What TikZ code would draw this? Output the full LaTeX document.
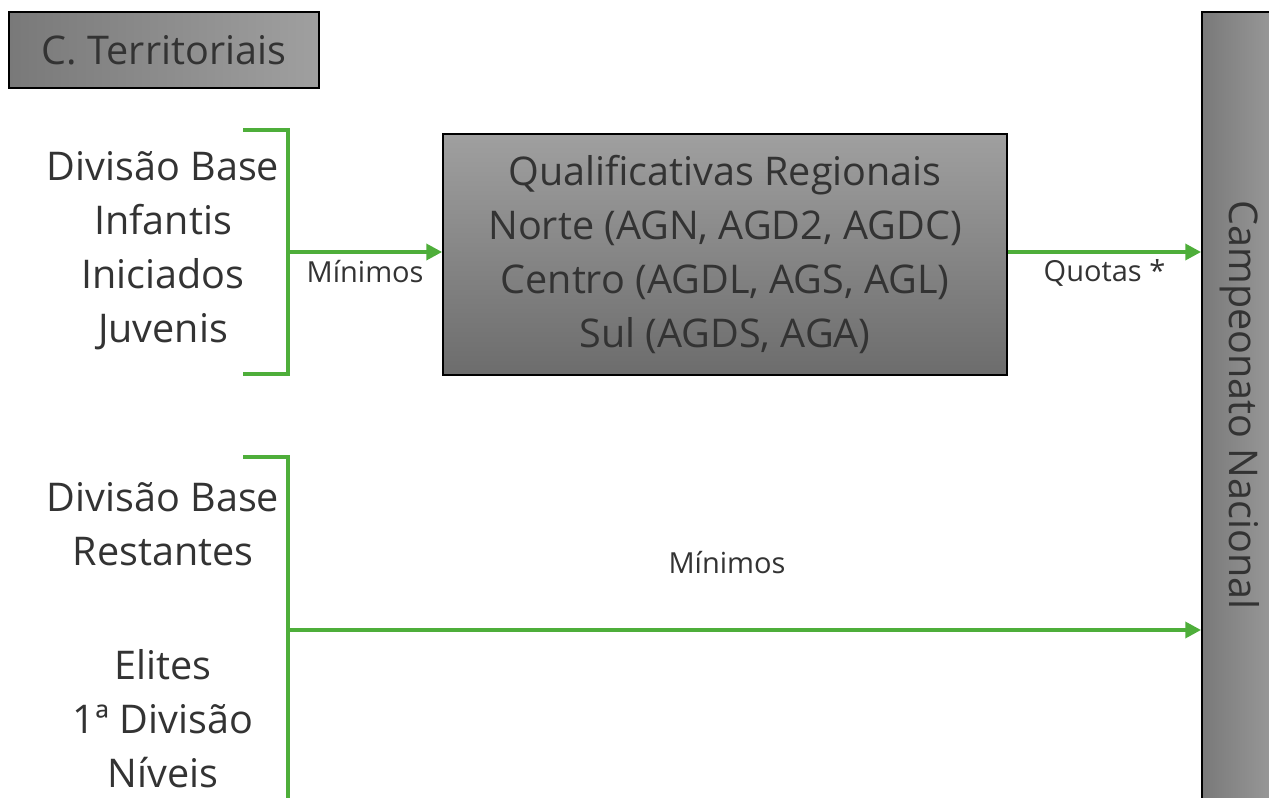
\documentclass[tikz,border=0pt]{standalone}
\usepackage{fontspec}
\setmainfont{Open Sans}
\usetikzlibrary{arrows.meta}
\definecolor{grn}{HTML}{4EAE3A}
\definecolor{txt}{HTML}{333333}
\begin{document}
\begin{tikzpicture}[x=0.02cm,y=-0.02cm,
    box/.style={draw=black,line width=1pt,inner sep=0pt,text=txt},
    big/.style={text=txt,font=\fontsize{22.5}{30.8}\selectfont,align=center},
    small/.style={text=txt,font=\fontsize{16.5}{18}\selectfont},
    brack/.style={grn,line width=2.2pt},
    link/.style={grn,line width=2.2pt,-{Triangle[length=9pt,width=9pt]}}]
    \useasboundingbox (0,0) rectangle (1269,798);
    \clip (0,0) rectangle (1269,798);
    % boxes
    \node[box,big,left color=gray!95!black,right color=gray!75,minimum width=6.2cm,minimum height=1.52cm] (terr) at (164,50) {C. Territoriais};
    \node[box,big,top color=gray!75,bottom color=gray!85!black,minimum width=11.28cm,minimum height=4.82cm] (qual) at (725,254.5) {Qualificativas Regionais\\Norte (AGN, AGD2, AGDC)\\Centro (AGDL, AGS, AGL)\\Sul (AGDS, AGA)};
    \node[box,left color=gray!95!black,right color=gray!75,minimum width=1.76cm,minimum height=16.2cm] (nat) at (1246,417) {};
    \node[big,rotate=-90] (natlbl) at (1240,405) {Campeonato Nacional};
    % left groups
    \node[big] (sub) at (163,251) {Divisão Base\\Infantis\\Iniciados\\Juvenis};
    \node[big] (rest) at (163,524) {Divisão Base\\Restantes};
    \node[big] (elite) at (163,719) {Elites\\1ª Divisão\\Níveis};
    % brackets
    \coordinate (b1) at (288,252);
    \coordinate (b2) at (288,630);
    \draw[brack] (243,130) -- (288,130) -- (288,374) -- (243,374);
    \draw[brack] (243,457) -- (288,457) -- (288,810);
    % arrows
    \draw[link] (b1) -- (qual.west |- b1) node[small,pos=0.5,below=0pt] (min1) {Mínimos};
    \draw[link] (qual.east |- b1) -- (nat.west |- b1) node[small,pos=0.5,below=0pt] (quo) {Quotas *};
    \draw[link] (b2) -- (nat.west |- b2);
    \node[small] (min2) at (727,563) {Mínimos};
\end{tikzpicture}
\end{document}
